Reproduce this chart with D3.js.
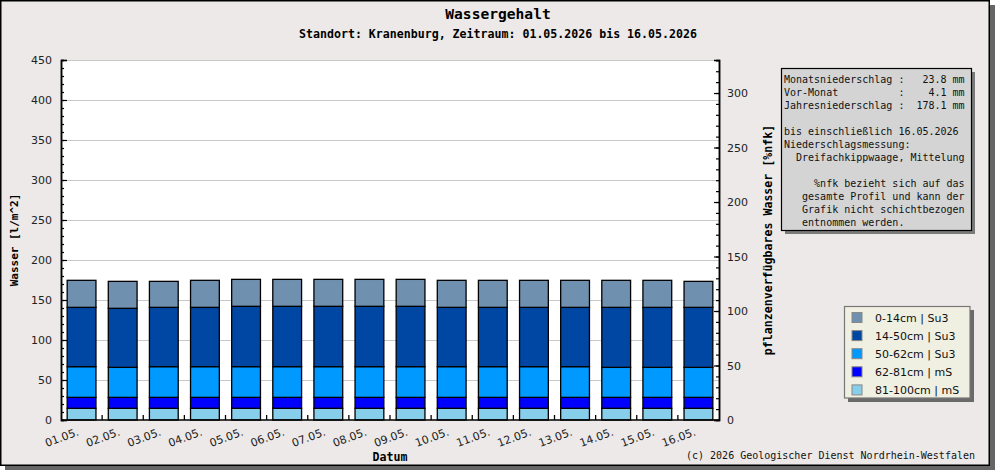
<!DOCTYPE html>
<html>
<head>
<meta charset="utf-8">
<script src="https://cdn.jsdelivr.net/npm/d3@7"></script>
<style>
  body { margin: 0; background: #ffffff; }
  svg text { font-family: "DejaVu Sans", sans-serif; }
  .mono { font-family: "DejaVu Sans Mono", monospace; white-space: pre; }
</style>
</head>
<body>
<svg id="chart"></svg>
<script>
var dates = ["01.05.", "02.05.", "03.05.", "04.05.", "05.05.", "06.05.", "07.05.", "08.05.",
             "09.05.", "10.05.", "11.05.", "12.05.", "13.05.", "14.05.", "15.05.", "16.05."];

// layer values in l/m^2, from the bottom layer up
var layer81_100 = [14.6, 14.6, 14.6, 14.6, 14.6, 14.6, 14.6, 14.6, 14.6, 14.6, 14.6, 14.6, 14.6, 14.6, 14.6, 14.6];
var layer62_81  = [13.7, 13.7, 13.7, 13.7, 13.7, 13.7, 13.7, 13.7, 13.7, 13.7, 13.7, 13.7, 13.7, 13.7, 13.7, 13.7];
var layer50_62  = [38.4, 37.5, 38.4, 38.4, 38.4, 38.4, 38.4, 38.4, 38.4, 38.4, 38.4, 38.4, 38.4, 37.5, 37.5, 37.5];
var layer14_50  = [74.1, 73.8, 74.1, 74.1, 75.4, 75.4, 75.4, 75.4, 75.4, 74.1, 74.1, 74.1, 74.1, 75.0, 75.0, 75.0];
var layer0_14   = [33.8, 33.7, 32.5, 33.8, 33.7, 33.7, 33.7, 33.7, 33.7, 33.8, 33.8, 33.8, 33.8, 33.8, 33.8, 32.5];

var layerNames = ["81-100cm | mS", "62-81cm | mS", "50-62cm | Su3", "14-50cm | Su3", "0-14cm | Su3"];
var layerColors = ["#87ceeb", "#0000ff", "#0099ff", "#0047a3", "#7090b0"];

var leftTicks = [0, 50, 100, 150, 200, 250, 300, 350, 400, 450];
var rightTicks = [0, 50, 100, 150, 200, 250, 300];
var rightMax = 330.3;

var infoLines = [
    "Monatsniederschlag :   23.8 mm",
    "Vor-Monat          :    4.1 mm",
    "Jahresniederschlag :  178.1 mm",
    "",
    "bis einschließlich 16.05.2026",
    "Niederschlagsmessung:",
    "  Dreifachkippwaage, Mittelung",
    "",
    "     %nfk bezieht sich auf das",
    "   gesamte Profil und kann der",
    "   Grafik nicht schichtbezogen",
    "   entnommen werden."
];

var width = 995, height = 470;
var margin = { top: 60, right: 276, bottom: 50, left: 61 };
var plotW = width - margin.left - margin.right;   // 658
var plotH = height - margin.top - margin.bottom;  // 360

var svg = d3.select("#chart").attr("width", width).attr("height", height);

// frame with shadow
svg.append("rect").attr("x", 5).attr("y", 5).attr("width", 990).attr("height", 465).attr("fill", "#666666");
svg.append("rect").attr("x", 0.75).attr("y", 0.75).attr("width", 988.5).attr("height", 464.5)
    .attr("fill", "#ece9e8").attr("stroke", "#000").attr("stroke-width", 1.5);

svg.append("text").attr("class", "mono").attr("x", 498).attr("y", 18.5)
    .attr("text-anchor", "middle").attr("font-weight", "bold").attr("font-size", 14.6)
    .text("Wassergehalt");
svg.append("text").attr("class", "mono").attr("x", 498).attr("y", 38)
    .attr("text-anchor", "middle").attr("font-weight", "bold").attr("font-size", 11.6)
    .text("Standort: Kranenburg, Zeitraum: 01.05.2026 bis 16.05.2026");

var g = svg.append("g").attr("transform", "translate(" + margin.left + "," + margin.top + ")");

g.append("rect").attr("width", plotW).attr("height", plotH).attr("fill", "#fff");

var x = d3.scaleBand().domain(dates).range([0, plotW]).paddingInner(0.3).paddingOuter(0.15);
var y = d3.scaleLinear().domain([0, 450]).range([plotH, 0]);
var yRight = d3.scaleLinear().domain([0, rightMax]).range([plotH, 0]);

// grid
g.selectAll(".grid").data(leftTicks.slice(1)).enter().append("line")
    .attr("x1", 0).attr("x2", plotW)
    .attr("y1", function (d) { return y(d) + 0.5; }).attr("y2", function (d) { return y(d) + 0.5; })
    .attr("stroke", "#c8c8c8").attr("stroke-width", 1);

// stacked bars
var table = dates.map(function (d, i) {
    return { date: d, l0: layer81_100[i], l1: layer62_81[i], l2: layer50_62[i], l3: layer14_50[i], l4: layer0_14[i] };
});
var stack = d3.stack().keys(["l0", "l1", "l2", "l3", "l4"]);
var series = stack(table);

g.selectAll(".layer").data(series).enter().append("g")
    .attr("fill", function (d, i) { return layerColors[i]; })
    .selectAll("rect").data(function (d) { return d; }).enter().append("rect")
    .attr("x", function (d) { return x(d.data.date); })
    .attr("y", function (d) { return y(d[1]); })
    .attr("width", x.bandwidth())
    .attr("height", function (d) { return y(d[0]) - y(d[1]); })
    .attr("stroke", "#000").attr("stroke-width", 1.3);

// left axis
g.append("g").call(d3.axisLeft(y).tickValues(leftTicks).tickSize(-6).tickPadding(9));
g.append("g").call(d3.axisLeft(y).tickValues(d3.range(0, 451, 10)).tickSize(-3).tickFormat(""));

// right axis
g.append("g").attr("transform", "translate(" + plotW + ",0)")
    .call(d3.axisRight(yRight).tickValues(rightTicks).tickSize(-5).tickPadding(8));
g.append("g").attr("transform", "translate(" + plotW + ",0)")
    .call(d3.axisRight(yRight).tickValues(d3.range(0, 331, 10)).tickSize(-3).tickFormat(""));

// bottom axis: ticks between the days, labels under each bar
g.append("line").attr("x1", 0).attr("x2", plotW).attr("y1", plotH).attr("y2", plotH)
    .attr("stroke", "#000").attr("stroke-width", 1.5);
g.selectAll(".xtick").data(dates.slice(1)).enter().append("line")
    .attr("x1", function (d) { return x(d) - x.step() * x.paddingInner() / 2; })
    .attr("x2", function (d) { return x(d) - x.step() * x.paddingInner() / 2; })
    .attr("y1", plotH).attr("y2", plotH - 5)
    .attr("stroke", "#000").attr("stroke-width", 1.3);
g.selectAll(".xlab").data(dates).enter().append("text")
    .attr("transform", function (d) {
        return "translate(" + (x(d) + x.bandwidth() / 2 - 2) + "," + (plotH + 15) + ") rotate(-20)";
    })
    .attr("text-anchor", "end").attr("font-size", 11).attr("fill", "#222")
    .text(function (d) { return d; });

g.selectAll(".domain").attr("stroke", "#000").attr("stroke-width", 1.5);
g.selectAll(".tick line").attr("stroke", "#000").attr("stroke-width", 1.2);
g.selectAll(".tick text").attr("font-size", 11).attr("fill", "#222")
    .attr("font-family", "DejaVu Sans, sans-serif");

// axis titles
svg.append("text").attr("class", "mono")
    .attr("transform", "translate(18," + (margin.top + plotH / 2) + ") rotate(-90)")
    .attr("text-anchor", "middle").attr("font-weight", "bold").attr("font-size", 11)
    .text("Wasser [l/m^2]");
svg.append("text").attr("class", "mono")
    .attr("transform", "translate(772," + (margin.top + plotH / 2) + ") rotate(-90)")
    .attr("text-anchor", "middle").attr("font-weight", "bold").attr("font-size", 11.6)
    .text("pflanzenverfügbares Wasser [%nfk]");
svg.append("text").attr("class", "mono").attr("x", margin.left + plotW / 2).attr("y", 460.5)
    .attr("text-anchor", "middle").attr("font-weight", "bold").attr("font-size", 11.6)
    .text("Datum");

// info box
svg.append("rect").attr("x", 785).attr("y", 72).attr("width", 190).attr("height", 162).attr("fill", "#7a7a7a");
svg.append("rect").attr("x", 781.5).attr("y", 68.5).attr("width", 190).attr("height", 162)
    .attr("fill", "#d4d4d4").attr("stroke", "#000").attr("stroke-width", 1.2);
svg.append("g").selectAll("text").data(infoLines).enter().append("text")
    .attr("class", "mono").attr("x", 784).attr("y", function (d, i) { return 83.3 + i * 12.95; })
    .attr("font-size", 10).attr("fill", "#111")
    .text(function (d) { return d; });

// legend
svg.append("rect").attr("x", 848).attr("y", 310).attr("width", 126).attr("height", 92).attr("fill", "#6a6a6a");
svg.append("rect").attr("x", 844.5).attr("y", 306.5).attr("width", 125.5).attr("height", 91.5)
    .attr("fill", "#efefe2").attr("stroke", "#777").attr("stroke-width", 1.2);
var legendOrder = [4, 3, 2, 1, 0];
var leg = svg.append("g").selectAll("g").data(legendOrder).enter().append("g")
    .attr("transform", function (d, i) { return "translate(852," + (312.5 + i * 18.1) + ")"; });
leg.append("rect").attr("width", 10).attr("height", 10)
    .attr("fill", function (d) { return layerColors[d]; })
    .attr("stroke", "#888").attr("stroke-width", 1);
leg.append("text").attr("x", 23).attr("y", 9.5).attr("font-size", 11).attr("fill", "#111")
    .text(function (d) { return layerNames[d]; });

// footer
svg.append("text").attr("class", "mono").attr("x", 686).attr("y", 459)
    .attr("font-size", 10).attr("fill", "#111")
    .text("(c) 2026 Geologischer Dienst Nordrhein-Westfalen");
</script>
</body>
</html>
